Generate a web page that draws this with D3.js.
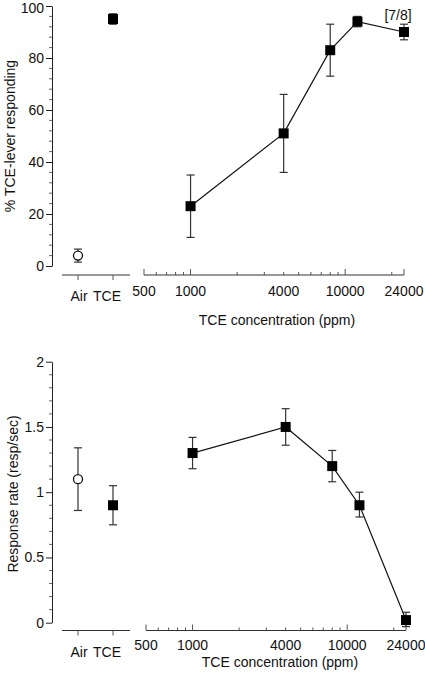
<!DOCTYPE html>
<html><head><meta charset="utf-8">
<script src="https://cdn.jsdelivr.net/npm/d3@7"></script>
<style>
body{margin:0;background:#fff;}
text{font-family:"Liberation Sans",Arial,Helvetica,sans-serif;}
</style></head>
<body><svg id="c" width="425" height="680"></svg>
<script>
// ---- data ----
const controlCats = ["Air", "TCE"];
const concentrations = [1000, 4000, 8000, 12000, 24000];

// top panel: % TCE-lever responding
const pctControl = [4, 95];
const pctControlLo = [1.5, 93];
const pctControlHi = [6.5, 97];
const pctValues = [23, 51, 83, 94, 90];
const pctLo = [11, 36, 73, 92, 87];
const pctHi = [35, 66, 93, 96, 93];
const pctNote = "[7/8]";

// bottom panel: response rate (resp/sec)
const rateControl = [1.10, 0.90];
const rateControlLo = [0.86, 0.75];
const rateControlHi = [1.34, 1.05];
const rateValues = [1.30, 1.50, 1.20, 0.90, 0.02];
const rateLo = [1.18, 1.36, 1.08, 0.81, -0.03];
const rateHi = [1.42, 1.64, 1.32, 1.00, 0.08];

const pctTicks = [0, 20, 40, 60, 80, 100];
const rateTicks = [0, 0.5, 1, 1.5, 2];
const concTickLabels = [500, 1000, 4000, 10000, 24000];

const svg = d3.select("#c");
const FS = 14;

function panel(cfg) {
  const g = svg.append("g");
  const y = d3.scaleLinear().domain(cfg.yDomain).range([cfg.y0, cfg.y1]);
  const xc = d3.scalePoint().domain(controlCats).range([78, 113]);
  const xl = d3.scaleLog().domain([500, 24000]).range(cfg.logRange);

  // y axis
  const ya = g.append("g").attr("transform", "translate(52,0)")
    .call(d3.axisLeft(y).tickValues(cfg.yTicks).tickSize(6).tickSizeOuter(0).tickFormat(cfg.fmt));
  ya.select(".domain").attr("stroke", "#222");
  ya.selectAll(".tick line").attr("stroke", "#222");
  ya.selectAll("text").attr("font-size", FS).attr("fill", "#111").attr("x", -8).attr("font-family", null)
    .attr("dy", d => (y(d) < 10 ? "0.45em" : "0.32em"));
  // minor ticks
  g.append("g").selectAll("line").data(cfg.minor).join("line")
    .attr("x1", 52).attr("x2", 49).attr("y1", d => y(d)).attr("y2", d => y(d))
    .attr("stroke", "#666");

  // y title
  g.append("text").attr("transform", `translate(${cfg.titleX},${cfg.titleY}) rotate(-90)`)
    .attr("text-anchor", "middle").attr("font-size", FS).attr("fill", "#111").text(cfg.yTitle);

  // category axis
  const ay = cfg.axisY;
  g.append("line").attr("x1", 62).attr("x2", 130).attr("y1", ay).attr("y2", ay).attr("stroke", "#333");
  g.append("g").selectAll("line").data(controlCats).join("line")
    .attr("x1", d => xc(d)).attr("x2", d => xc(d)).attr("y1", ay).attr("y2", ay + 5).attr("stroke", "#555");
  g.append("g").selectAll("text").data(controlCats).join("text")
    .attr("x", (d, i) => xc(d) + (i === 0 ? 1 : -6)).attr("y", ay + 26).attr("text-anchor", "middle")
    .attr("font-size", FS).attr("fill", "#111").text(d => d);

  // log axis (ticks up)
  const lx = xl.range();
  g.append("line").attr("x1", lx[0]).attr("x2", lx[1]).attr("y1", ay).attr("y2", ay).attr("stroke", "#333");
  const tickVals = [];
  [100, 1000, 10000].forEach(dec => { for (let k = 1; k <= 9; k++) { const v = k * dec; if (v >= 500 && v <= 24000) tickVals.push(v); } });
  tickVals.push(24000);
  const majors = new Set([500, 1000, 10000, 24000]);
  g.append("g").selectAll("line").data(tickVals).join("line")
    .attr("x1", d => xl(d)).attr("x2", d => xl(d))
    .attr("y1", ay).attr("y2", d => ay - (majors.has(d) ? 6 : 3)).attr("stroke", "#555");
  g.append("g").selectAll("text").data(concTickLabels).join("text")
    .attr("x", d => xl(d)).attr("y", ay + cfg.tickLabelOff).attr("text-anchor", "middle")
    .attr("font-size", FS).attr("fill", "#111").text(d => d);
  g.append("text").attr("x", cfg.xTitleX).attr("y", cfg.xTitleY).attr("text-anchor", "middle")
    .attr("font-size", FS).attr("fill", "#111").text("TCE concentration (ppm)");

  // error bars helper
  function err(xs, lo, hi) {
    const eg = g.append("g").attr("stroke", "#333").attr("stroke-width", 1.2);
    xs.forEach((x, i) => {
      eg.append("line").attr("x1", x).attr("x2", x).attr("y1", y(lo[i])).attr("y2", y(hi[i]));
      eg.append("line").attr("x1", x - 4).attr("x2", x + 4).attr("y1", y(lo[i])).attr("y2", y(lo[i]));
      eg.append("line").attr("x1", x - 4).attr("x2", x + 4).attr("y1", y(hi[i])).attr("y2", y(hi[i]));
    });
  }

  // controls
  err(controlCats.map(c => xc(c)), cfg.cLo, cfg.cHi);
  g.append("circle").attr("cx", xc("Air")).attr("cy", y(cfg.cVal[0])).attr("r", 4.5)
    .attr("fill", "#fff").attr("stroke", "#111").attr("stroke-width", 1.3);
  g.append("rect").attr("x", xc("TCE") - 5).attr("y", y(cfg.cVal[1]) - 5).attr("width", 10).attr("height", 10).attr("fill", "#000");

  // dose response
  const pts = concentrations.map((c, i) => [xl(c), y(cfg.vals[i])]);
  g.append("path").attr("d", d3.line()(pts)).attr("fill", "none").attr("stroke", "#111").attr("stroke-width", 1.2);
  err(concentrations.map(c => xl(c)), cfg.lo, cfg.hi);
  g.append("g").selectAll("rect").data(pts).join("rect")
    .attr("x", d => d[0] - 5).attr("y", d => d[1] - 5).attr("width", 10).attr("height", 10).attr("fill", "#000");
  return { y, xl };
}

const topPanel = panel({
  yDomain: [0, 100], y0: 266, y1: 6, yTicks: pctTicks, fmt: d3.format("d"),
  minor: d3.range(0, 101, 4).filter(v => v % 20 !== 0),
  yTitle: "% TCE-lever responding", titleX: 15, titleY: 136,
  axisY: 275, logRange: [144, 404], tickLabelOff: 21, xTitleX: 277, xTitleY: 325,
  cVal: pctControl, cLo: pctControlLo, cHi: pctControlHi,
  vals: pctValues, lo: pctLo, hi: pctHi
});
svg.append("text").attr("x", topPanel.xl(24000) - 6).attr("y", 20).attr("text-anchor", "middle")
  .attr("font-size", FS).attr("fill", "#111").text(pctNote);

panel({
  yDomain: [0, 2], y0: 622.7, y1: 361.7, yTicks: rateTicks, fmt: d => d3.format("")(d),
  minor: d3.range(0, 21).map(v => v / 10).filter(v => Math.round(v * 10) % 5 !== 0),
  yTitle: "Response rate (resp/sec)", titleX: 18, titleY: 494,
  axisY: 630.5, logRange: [146, 406], tickLabelOff: 19, xTitleX: 280, xTitleY: 667,
  cVal: rateControl, cLo: rateControlLo, cHi: rateControlHi,
  vals: rateValues, lo: rateLo, hi: rateHi
});
</script></body></html>
